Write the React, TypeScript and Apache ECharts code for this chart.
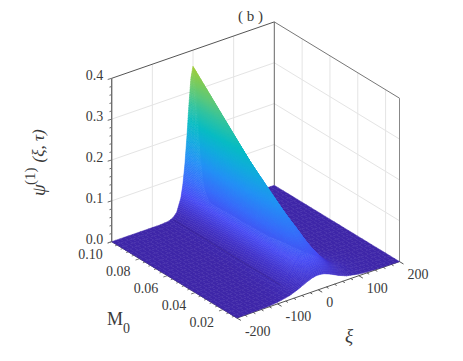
import React, { useEffect, useRef } from "react";
import * as echarts from "echarts";

// ---- data ----
const xiValues = [-200, -150, -120, -100, -80, -70, -60, -50, -40, -30, -25, -20, -15, -10, -5, 0, 5, 10, 15, 20, 25, 30, 40, 50, 60, 70, 80, 100, 120, 150, 200];
const m0Values = [0.01, 0.02, 0.03, 0.04, 0.05, 0.06, 0.07, 0.08, 0.09, 0.1];
const psiRow001 = [0, 0.001, 0.002, 0.004, 0.008, 0.01, 0.014, 0.018, 0.023, 0.028, 0.03, 0.032, 0.034, 0.035, 0.036, 0.036, 0.036, 0.035, 0.034, 0.032, 0.03, 0.028, 0.023, 0.018, 0.014, 0.01, 0.008, 0.004, 0.002, 0.001, 0];
const psiRow002 = [0, 0, 0.001, 0.002, 0.005, 0.009, 0.014, 0.023, 0.034, 0.048, 0.056, 0.063, 0.07, 0.075, 0.078, 0.08, 0.079, 0.077, 0.074, 0.069, 0.065, 0.059, 0.047, 0.035, 0.026, 0.018, 0.013, 0.006, 0.003, 0.001, 0];
const psiRow003 = [0, 0, 0, 0.001, 0.003, 0.007, 0.012, 0.021, 0.035, 0.057, 0.07, 0.083, 0.096, 0.108, 0.116, 0.118, 0.116, 0.112, 0.104, 0.096, 0.085, 0.074, 0.053, 0.037, 0.024, 0.016, 0.01, 0.004, 0.002, 0, 0];
const psiRow004 = [0, 0, 0, 0.001, 0.002, 0.004, 0.008, 0.017, 0.032, 0.058, 0.075, 0.095, 0.115, 0.133, 0.146, 0.15, 0.147, 0.137, 0.123, 0.106, 0.089, 0.072, 0.045, 0.026, 0.015, 0.008, 0.005, 0.001, 0, 0, 0];
const psiRow005 = [0, 0, 0, 0, 0.001, 0.003, 0.006, 0.014, 0.029, 0.057, 0.078, 0.103, 0.13, 0.155, 0.175, 0.183, 0.177, 0.161, 0.139, 0.114, 0.09, 0.069, 0.038, 0.02, 0.01, 0.005, 0.002, 0.001, 0, 0, 0];
const psiRow006 = [0, 0, 0, 0, 0.001, 0.002, 0.005, 0.011, 0.026, 0.056, 0.08, 0.111, 0.146, 0.18, 0.206, 0.216, 0.206, 0.18, 0.146, 0.111, 0.08, 0.056, 0.026, 0.011, 0.005, 0.002, 0.001, 0, 0, 0, 0];
const psiRow007 = [0, 0, 0, 0, 0.001, 0.002, 0.004, 0.009, 0.023, 0.055, 0.082, 0.117, 0.16, 0.205, 0.239, 0.252, 0.239, 0.205, 0.16, 0.117, 0.082, 0.055, 0.023, 0.009, 0.004, 0.002, 0.001, 0, 0, 0, 0];
const psiRow008 = [0, 0, 0, 0, 0, 0.001, 0.003, 0.008, 0.021, 0.053, 0.082, 0.122, 0.173, 0.227, 0.271, 0.288, 0.271, 0.227, 0.173, 0.122, 0.082, 0.053, 0.021, 0.008, 0.003, 0.001, 0, 0, 0, 0, 0];
const psiRow009 = [0, 0, 0, 0, 0, 0.001, 0.002, 0.007, 0.019, 0.051, 0.081, 0.125, 0.184, 0.249, 0.303, 0.324, 0.303, 0.249, 0.184, 0.125, 0.081, 0.051, 0.019, 0.007, 0.002, 0.001, 0, 0, 0, 0, 0];
const psiRow010 = [0, 0, 0, 0, 0, 0.001, 0.002, 0.006, 0.017, 0.048, 0.079, 0.127, 0.193, 0.268, 0.334, 0.36, 0.334, 0.268, 0.193, 0.127, 0.079, 0.048, 0.017, 0.006, 0.002, 0.001, 0, 0, 0, 0, 0];
const psiRows = [psiRow001, psiRow002, psiRow003, psiRow004, psiRow005, psiRow006, psiRow007, psiRow008, psiRow009, psiRow010];

const zTickLabels = ["0.0", "0.1", "0.2", "0.3", "0.4"];
const m0TickLabels = ["0.02", "0.04", "0.06", "0.08", "0.10"];
const xiTickLabels = ["-200", "-100", "0", "100", "200"];

// colour ramp of the surface, by height
const colorZ = [0, 0.03, 0.06, 0.1, 0.147, 0.19, 0.23, 0.27, 0.3, 0.33, 0.36, 0.4];
const colorR = [62, 66, 72, 55, 35, 18, 8, 50, 90, 125, 165, 205];
const colorG = [38, 52, 76, 110, 145, 170, 188, 195, 200, 203, 205, 195];
const colorB = [168, 204, 244, 250, 245, 222, 195, 160, 125, 90, 55, 40];

// ---- oblique box layout (axis-domain → page position) ----
const LEFT = [111.7, 241.7];
const BACK = [274.3, 185.3];
const FRONT = [236.9, 318.0];
const BOX_H = 163.4;
const project = (xi: number, m: number, z: number) => {
  const t = (xi + 200) / 400;
  const s = (0.1 - m) / 0.09;
  return [
    LEFT[0] + t * (BACK[0] - LEFT[0]) + s * (FRONT[0] - LEFT[0]),
    LEFT[1] + t * (BACK[1] - LEFT[1]) + s * (FRONT[1] - LEFT[1]) - (z / 0.4) * BOX_H,
  ];
};

const colorOf = (z: number) => {
  let i = 0;
  while (i < colorZ.length - 2 && z > colorZ[i + 1]) i++;
  const f = Math.max(0, Math.min(1, (z - colorZ[i]) / (colorZ[i + 1] - colorZ[i])));
  const c = (a: number[]) => Math.round(a[i] + f * (a[i + 1] - a[i]));
  return `rgb(${c(colorR)},${c(colorG)},${c(colorB)})`;
};

type Seg = { a: number[]; b: number[]; color: string; width: number; dx?: number; dy?: number };
const segs: Seg[] = [];
const GRID = "#e4e4e4";
const EDGE = "#6e6e6e";
// wall grid
[0.1, 0.2, 0.3].forEach((z) => {
  segs.push({ a: [-200, 0.1, z], b: [200, 0.1, z], color: GRID, width: 1 });
  segs.push({ a: [200, 0.1, z], b: [200, 0.01, z], color: GRID, width: 1 });
});
[-100, 0, 100].forEach((x) => segs.push({ a: [x, 0.1, 0], b: [x, 0.1, 0.4], color: GRID, width: 1 }));
[0.02, 0.04, 0.06, 0.08].forEach((m) => segs.push({ a: [200, m, 0], b: [200, m, 0.4], color: GRID, width: 1 }));
// box
segs.push({ a: [-200, 0.1, 0.4], b: [200, 0.1, 0.4], color: "#555555", width: 1 });
segs.push({ a: [200, 0.1, 0.4], b: [200, 0.01, 0.4], color: "#777777", width: 1 });
segs.push({ a: [200, 0.1, 0], b: [200, 0.1, 0.4], color: "#666666", width: 1 });
segs.push({ a: [200, 0.01, 0], b: [200, 0.01, 0.4], color: "#888888", width: 1 });
segs.push({ a: [-200, 0.1, 0], b: [-200, 0.1, 0.4], color: EDGE, width: 1.4 });
segs.push({ a: [-200, 0.1, 0], b: [-200, 0.01, 0], color: "#555555", width: 1 });
segs.push({ a: [-200, 0.01, 0], b: [200, 0.01, 0], color: "#555555", width: 1 });
// ticks
for (let k = 0; k <= 20; k++) {
  const major = k % 5 === 0;
  const z = k * 0.02;
  const l = major ? 1 : 0.55;
  segs.push({ a: [-200, 0.1, z], b: [-200, 0.1, z], dx: -4 * l, dy: 1.2 * l, color: EDGE, width: 1 });
}
for (let k = 0; k <= 22; k++) {
  const m = 0.1 - k * 0.004;
  const l = k % 5 === 0 ? 1 : 0.55;
  segs.push({ a: [-200, m, 0], b: [-200, m, 0], dx: -4 * l, dy: 1.4 * l, color: "#777777", width: 1 });
}
for (let k = 0; k <= 20; k++) {
  const x = -200 + k * 20;
  const l = k % 5 === 0 ? 1 : 0.55;
  segs.push({ a: [x, 0.01, 0], b: [x, 0.01, 0], dx: 4 * l, dy: 2.4 * l, color: "#555555", width: 1 });
}

// the dark shading crease at the foot of the ridge
const creases: Seg[] = [
  { a: [-47, 0.1, 0], b: [-47, 0.0235, 0], color: "rgba(40,20,110,0.22)", width: 1.6 },
];

type Lab = { text: string; p: number[]; dx: number; dy: number; align: string };
const labels: Lab[] = [];
zTickLabels.forEach((text) => labels.push({ text, p: [-200, 0.1, Number(text)], dx: -8.5, dy: -2.6, align: "right" }));
m0TickLabels.forEach((text) => labels.push({ text, p: [-200, Number(text), 0], dx: -9, dy: 13, align: "right" }));
xiTickLabels.forEach((text) => labels.push({ text, p: [Number(text), 0.01, 0], dx: 8, dy: 13, align: "left" }));

// painter's order: far cells first
const cells: number[][] = [];
for (let ix = xiValues.length - 2; ix >= 0; ix--) {
  for (let im = m0Values.length - 2; im >= 0; im--) cells.push([ix, im]);
}

const SERIF = "'Times New Roman', 'Liberation Serif', Times, serif";
const TEXT = "#3a3a3a";
const note = (text: string, x: number, y: number, size: number, extra: any = {}, rotation = 0, italic = false) => ({
  type: "text",
  x,
  y,
  rotation,
  style: {
    text,
    fontFamily: SERIF,
    fontSize: size,
    fontStyle: italic ? "italic" : "normal",
    fill: TEXT,
    textAlign: "left",
    textVerticalAlign: "middle",
    ...extra,
  },
});

const segRenderer = (list: Seg[]) => (params: any, api: any) => {
  const s = list[params.dataIndex];
  const a = api.coord(project(s.a[0], s.a[1], s.a[2]));
  const b = api.coord(project(s.b[0], s.b[1], s.b[2]));
  return {
    type: "line",
    shape: { x1: a[0], y1: a[1], x2: b[0] + (s.dx || 0), y2: b[1] + (s.dy || 0) },
    style: { stroke: s.color, lineWidth: s.width, fill: "none" },
  };
};

export default function App() {
  const ref = useRef<HTMLDivElement>(null);
  useEffect(() => {
    document.body.style.margin = "0";
    const chart = echarts.init(ref.current!, undefined, { renderer: "svg" });
    chart.setOption({
      animation: false,
      backgroundColor: "#ffffff",
      grid: { left: 0, right: 0, top: 0, bottom: 0 },
      xAxis: { type: "value", min: 0, max: 463, show: false },
      yAxis: { type: "value", min: 0, max: 361, inverse: true, show: false },
      graphic: [
        note("( b )", 250.5, 15.5, 15, { textAlign: "center" }),
        note("ψ", 38, 196, 19, {}, Math.PI / 2, true),
        note("(1)", 30, 185, 15, {}, Math.PI / 2),
        note("(ξ, τ)", 38, 162.5, 17, {}, Math.PI / 2, true),
        note("M", 107, 318.5, 18),
        note("0", 123, 328, 14),
        note("ξ", 349, 335, 19, { textAlign: "center" }, 0, true),
      ],
      series: [
        {
          type: "custom",
          silent: true,
          clip: false,
          progressive: 0,
          data: segs.map((_, i) => [i]),
          renderItem: segRenderer(segs),
        },
        {
          type: "custom",
          silent: true,
          clip: false,
          progressive: 0,
          data: cells,
          renderItem: (params: any, api: any) => {
            const [ix, im] = cells[params.dataIndex];
            const x0 = xiValues[ix];
            const x1 = xiValues[ix + 1];
            const m0 = m0Values[im];
            const m1 = m0Values[im + 1];
            const r0 = psiRows[im];
            const r1 = psiRows[im + 1];
            const dzX = Math.max(Math.abs(r0[ix + 1] - r0[ix]), Math.abs(r1[ix + 1] - r1[ix]));
            const dzM = Math.max(Math.abs(r1[ix] - r0[ix]), Math.abs(r1[ix + 1] - r0[ix + 1]));
            const xSteps = Math.max(Math.round((x1 - x0) / 10), Math.ceil(dzX / 0.004), 1);
            const mSteps = Math.max(Math.ceil(dzM / 0.004), 3);
            const z = (u: number, v: number) =>
              (1 - v) * ((1 - u) * r0[ix] + u * r0[ix + 1]) + v * ((1 - u) * r1[ix] + u * r1[ix + 1]);
            const pt = (u: number, v: number) =>
              api.coord(project(x0 + u * (x1 - x0), m0 + v * (m1 - m0), z(u, v)));
            const children: any[] = [];
            for (let i = xSteps - 1; i >= 0; i--) {
              for (let j = mSteps - 1; j >= 0; j--) {
                const u0 = i / xSteps;
                const u1 = (i + 1) / xSteps;
                const v0 = j / mSteps;
                const v1 = (j + 1) / mSteps;
                const fill = colorOf(z((u0 + u1) / 2, (v0 + v1) / 2));
                children.push({
                  type: "polygon",
                  shape: { points: [pt(u0, v0), pt(u1, v0), pt(u1, v1), pt(u0, v1)] },
                  style: { fill, stroke: fill, lineWidth: 0.5 },
                });
              }
            }
            return { type: "group", children };
          },
        },
        {
          type: "custom",
          silent: true,
          clip: false,
          progressive: 0,
          data: creases.map((_, i) => [i]),
          renderItem: segRenderer(creases),
        },
        {
          type: "custom",
          silent: true,
          clip: false,
          progressive: 0,
          data: labels.map((_, i) => [i]),
          renderItem: (params: any, api: any) => {
            const l = labels[params.dataIndex];
            const p = api.coord(project(l.p[0], l.p[1], l.p[2]));
            return {
              type: "text",
              x: p[0] + l.dx,
              y: p[1] + l.dy,
              style: {
                text: l.text,
                fontFamily: SERIF,
                fontSize: 14,
                fill: TEXT,
                textAlign: l.align,
                textVerticalAlign: "middle",
              },
            };
          },
        },
      ],
    });
    return () => chart.dispose();
  }, []);
  return <div ref={ref} style={{ width: 463, height: 361 }} />;
}
